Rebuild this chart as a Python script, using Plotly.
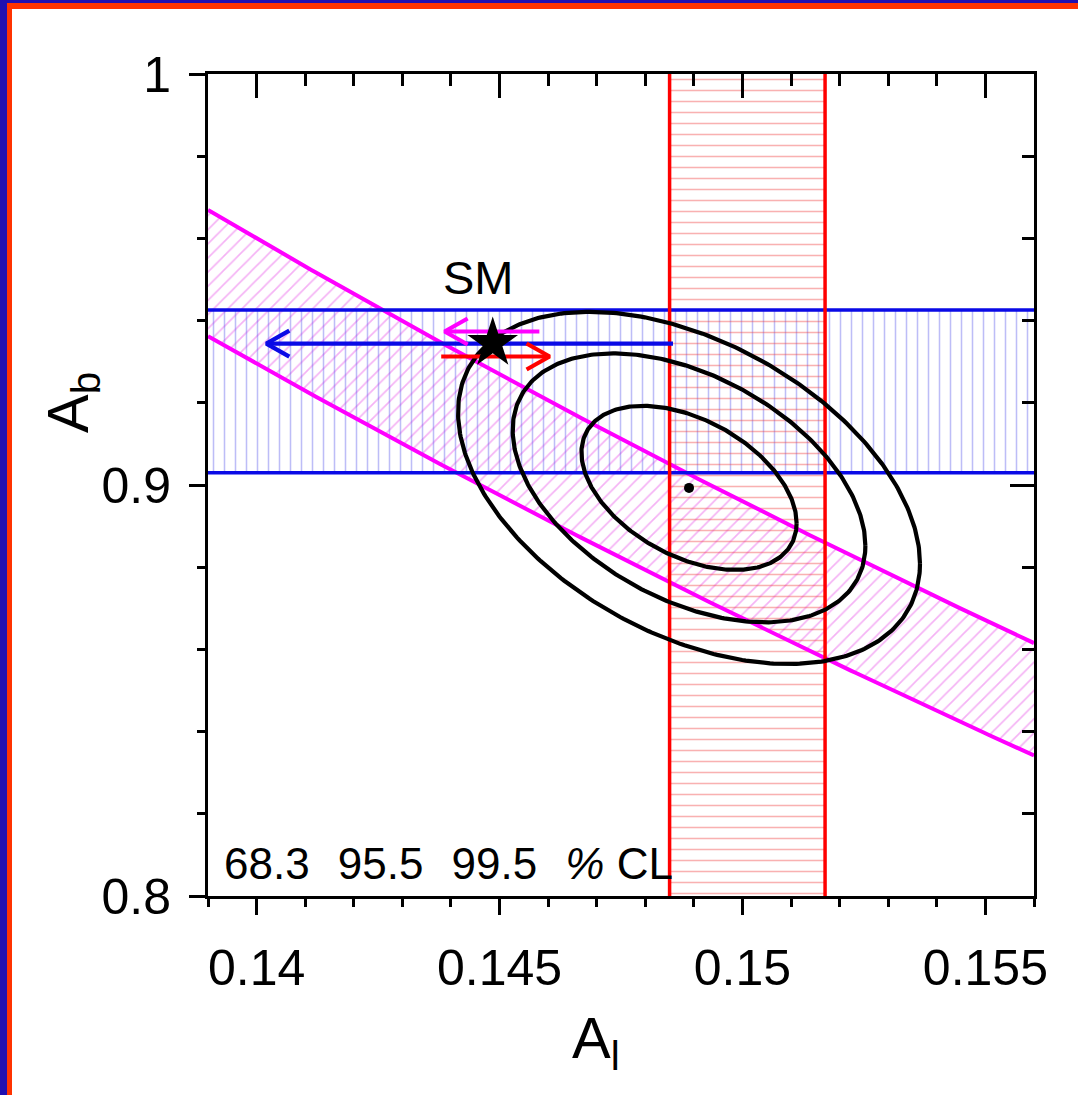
import numpy as np
import plotly.graph_objects as go

# ---------------- data ----------------
x_range = [0.139, 0.156]
y_range = [0.8, 1.0]
x_tickvals = [0.14, 0.145, 0.15, 0.155]
x_ticktext = ["0.14", "0.145", "0.15", "0.155"]
y_tickvals = [0.8, 0.9, 1.0]
y_ticktext = ["0.8", "0.9", "1"]

Al_meas = [0.1501, 0.0016]      # red band   (A_l)
Ab_meas = [0.9228, 0.0198]      # blue band  (A_b)
AFB_b_meas = [0.0992, 0.0016]   # magenta band: A_b = 4/3 * A_FB^b / A_l

fit_center = [0.1489, 0.8993]
fit_sigma = [0.00146, 0.01316]
fit_rho = -0.43
cl_labels = ["68.3", "95.5", "99.5"]
cl_dchi2 = [2.30, 6.18, 10.60]

sm_point = [0.14486, 0.9345]

# arrows: start x, end (tip) x, y
arrow_blue = [0.14857, 0.1402, 0.9344]
arrow_magenta = [0.14582, 0.14387, 0.93735]
arrow_red = [0.1438, 0.14603, 0.93127]

# ---------------- layout geometry ----------------
W, H = 1078, 1095
ML, MR, MT, MB = 208, 44, 74, 199
plot_w = W - ML - MR
plot_h = H - MT - MB
px_x = plot_w / (x_range[1] - x_range[0])
px_y = plot_h / (y_range[1] - y_range[0])

FONT = "Liberation Sans, Arial, Helvetica, sans-serif"
RED = "#ff0000"
BLUE = "#0a0ae6"
MAG = "#ff00ff"

fig = go.Figure()

# magenta band (A_FB^b)
xs = np.linspace(x_range[0], x_range[1], 200)
up = 4.0 / 3.0 * (AFB_b_meas[0] + AFB_b_meas[1]) / xs
lo = 4.0 / 3.0 * (AFB_b_meas[0] - AFB_b_meas[1]) / xs
fig.add_trace(go.Scatter(
    x=np.concatenate([xs, xs[::-1]]), y=np.concatenate([up, lo[::-1]]),
    mode="lines", line=dict(width=0), fill="toself", fillcolor="rgba(0,0,0,0)",
    fillpattern=dict(shape="/", size=10, solidity=0.16,
                     fgcolor="rgba(230,70,230,0.85)", bgcolor="rgba(0,0,0,0)"),
    hoverinfo="skip", showlegend=False))

# blue band (A_b)
b_lo, b_hi = Ab_meas[0] - Ab_meas[1], Ab_meas[0] + Ab_meas[1]
fig.add_trace(go.Scatter(
    x=[x_range[0], x_range[1], x_range[1], x_range[0], x_range[0]],
    y=[b_lo, b_lo, b_hi, b_hi, b_lo],
    mode="lines", line=dict(width=0), fill="toself", fillcolor="rgba(0,0,0,0)",
    fillpattern=dict(shape="|", size=11, solidity=0.14,
                     fgcolor="rgba(90,90,235,0.8)", bgcolor="rgba(0,0,0,0)"),
    hoverinfo="skip", showlegend=False))

# red band (A_l)
r_lo, r_hi = Al_meas[0] - Al_meas[1], Al_meas[0] + Al_meas[1]
fig.add_trace(go.Scatter(
    x=[r_lo, r_hi, r_hi, r_lo, r_lo],
    y=[y_range[0], y_range[0], y_range[1], y_range[1], y_range[0]],
    mode="lines", line=dict(width=0), fill="toself", fillcolor="rgba(0,0,0,0)",
    fillpattern=dict(shape="-", size=11, solidity=0.14,
                     fgcolor="rgba(240,60,60,0.8)", bgcolor="rgba(0,0,0,0)"),
    hoverinfo="skip", showlegend=False))

# band edges
for yy in (up, lo):
    fig.add_trace(go.Scatter(x=xs, y=yy, mode="lines", line=dict(color=MAG, width=4),
                             hoverinfo="skip", showlegend=False))
for yv in (b_lo, b_hi):
    fig.add_trace(go.Scatter(x=list(x_range), y=[yv, yv], mode="lines",
                             line=dict(color=BLUE, width=3.5), hoverinfo="skip", showlegend=False))
for xv in (r_lo, r_hi):
    fig.add_trace(go.Scatter(x=[xv, xv], y=list(y_range), mode="lines",
                             line=dict(color=RED, width=3.5), hoverinfo="skip", showlegend=False))

# fit contours
t = np.linspace(0, 2 * np.pi, 400)
for k in cl_dchi2:
    ex = fit_center[0] + np.sqrt(k) * fit_sigma[0] * np.cos(t)
    ey = fit_center[1] + np.sqrt(k) * fit_sigma[1] * (fit_rho * np.cos(t) + np.sqrt(1 - fit_rho ** 2) * np.sin(t))
    fig.add_trace(go.Scatter(x=ex, y=ey, mode="lines", line=dict(color="black", width=4.2),
                             hoverinfo="skip", showlegend=False))

# arrows with open chevron heads
def arrow(spec, color):
    x0, x1, y = spec
    d = 1 if x1 > x0 else -1
    hx = 23 / px_x
    hy = 13 / px_y
    xx = [x0, x1, None, x1 - d * hx, x1, x1 - d * hx]
    yy = [y, y, None, y + hy, y, y - hy]
    fig.add_trace(go.Scatter(x=xx, y=yy, mode="lines", line=dict(color=color, width=4.2),
                             hoverinfo="skip", showlegend=False))

arrow(arrow_blue, BLUE)
arrow(arrow_magenta, MAG)
arrow(arrow_red, RED)

# SM star and fit centre
fig.add_trace(go.Scatter(x=[sm_point[0]], y=[sm_point[1]], mode="markers",
                         marker=dict(symbol="star", size=38, color="black"),
                         hoverinfo="skip", showlegend=False))
fig.add_annotation(text="SM", x=sm_point[0], y=sm_point[1], xref="x", yref="y",
                   xshift=-14, yshift=66, showarrow=False,
                   xanchor="center", yanchor="middle",
                   font=dict(family=FONT, size=47, color="black"))
fig.add_trace(go.Scatter(x=[fit_center[0]], y=[fit_center[1]], mode="markers",
                         marker=dict(symbol="circle", size=10, color="black"),
                         hoverinfo="skip", showlegend=False))

# ---------------- axes ----------------
axis_common = dict(showgrid=False, zeroline=False, linecolor="black", linewidth=3)
fig.update_layout(
    width=W, height=H,
    margin=dict(l=ML, r=MR, t=MT, b=MB, pad=0),
    paper_bgcolor="white", plot_bgcolor="white",
    font=dict(family=FONT, color="black"),
    xaxis=dict(range=x_range, tickvals=x_tickvals, ticktext=x_ticktext,
               ticks="outside", ticklen=16, tickwidth=2.5, tickcolor="black",
               tickfont=dict(size=50, family=FONT), ticklabelstandoff=10,
               minor=dict(dtick=0.001, tick0=0.139, ticks="outside", ticklen=8,
                          tickwidth=2.5, tickcolor="black", showgrid=False),
               showline=True, mirror=True, **axis_common),
    yaxis=dict(range=y_range, tickvals=y_tickvals, ticktext=y_ticktext,
               ticks="outside", ticklen=16, tickwidth=2.5, tickcolor="black",
               tickfont=dict(size=50, family=FONT), ticklabelstandoff=8,
               minor=dict(dtick=0.02, tick0=0.8, ticks="outside", ticklen=8,
                          tickwidth=2.5, tickcolor="black", showgrid=False),
               showline=True, mirror=True, **axis_common),
    xaxis2=dict(range=x_range, overlaying="x", side="top", anchor="y",
                tickvals=x_tickvals, showticklabels=False,
                ticks="inside", ticklen=24, tickwidth=2.5, tickcolor="black",
                minor=dict(dtick=0.001, tick0=0.139, ticks="inside", ticklen=12,
                           tickwidth=2.5, tickcolor="black", showgrid=False),
                showgrid=False, zeroline=False, showline=False),
    yaxis2=dict(range=y_range, overlaying="y", side="right", anchor="x",
                tickvals=y_tickvals, showticklabels=False,
                ticks="inside", ticklen=24, tickwidth=2.5, tickcolor="black",
                minor=dict(dtick=0.02, tick0=0.8, ticks="inside", ticklen=12,
                           tickwidth=2.5, tickcolor="black", showgrid=False),
                showgrid=False, zeroline=False, showline=False),
)
# dummy trace to activate overlay axes
fig.add_trace(go.Scatter(x=[None], y=[None], xaxis="x2", yaxis="y2", showlegend=False))

# axis titles and CL label
fig.add_annotation(text="A<sub>l</sub>", xref="paper", yref="paper",
                   x=(596 - ML) / plot_w, y=-(1042 - (H - MB)) / plot_h,
                   xanchor="center", yanchor="middle", showarrow=False,
                   font=dict(size=58, family=FONT))
fig.add_annotation(text="A<sub>b</sub>", xref="paper", yref="paper",
                   x=(72 - ML) / plot_w, y=((H - MB) - 403) / plot_h, textangle=-90,
                   xanchor="center", yanchor="middle", showarrow=False,
                   font=dict(size=58, family=FONT))
sep = "\u00a0\u00a0\u200a"
cl_text = sep.join(cl_labels) + sep + "<i>%</i>\u00a0CL"
fig.add_annotation(text=cl_text, xref="paper", yref="paper",
                   x=(222 - ML) / plot_w, y=((H - MB) - 890) / plot_h,
                   xanchor="left", yanchor="bottom", showarrow=False,
                   font=dict(size=44, family=FONT))

# slide frame (blue + red edges, top and left only; right/bottom stay white)
BORDER_BLUE = "#2010b0"
BORDER_RED = "#ff3300"
def px2paper_x(p):
    return (p - ML) / plot_w
def px2paper_y(p):
    return ((H - MB) - p) / plot_h
frame = [
    (W - 8, W, 9, H, "white"),
    (12, W, H - 8, H, "white"),
    (0, W, 0, 3, BORDER_BLUE),
    (0, W, 3, 9, BORDER_RED),
    (0, 7, 0, H, BORDER_BLUE),
    (7, 12, 3, H, BORDER_RED),
]
for x0, x1, y0, y1, c in frame:
    fig.add_shape(type="rect", xref="paper", yref="paper",
                  x0=px2paper_x(x0), x1=px2paper_x(x1), y0=px2paper_y(y1), y1=px2paper_y(y0),
                  fillcolor=c, line=dict(width=0), layer="above")

fig.write_html("out.html", config={"displayModeBar": False},
               post_script="document.body.style.margin='0px';document.body.style.overflow='hidden';")
